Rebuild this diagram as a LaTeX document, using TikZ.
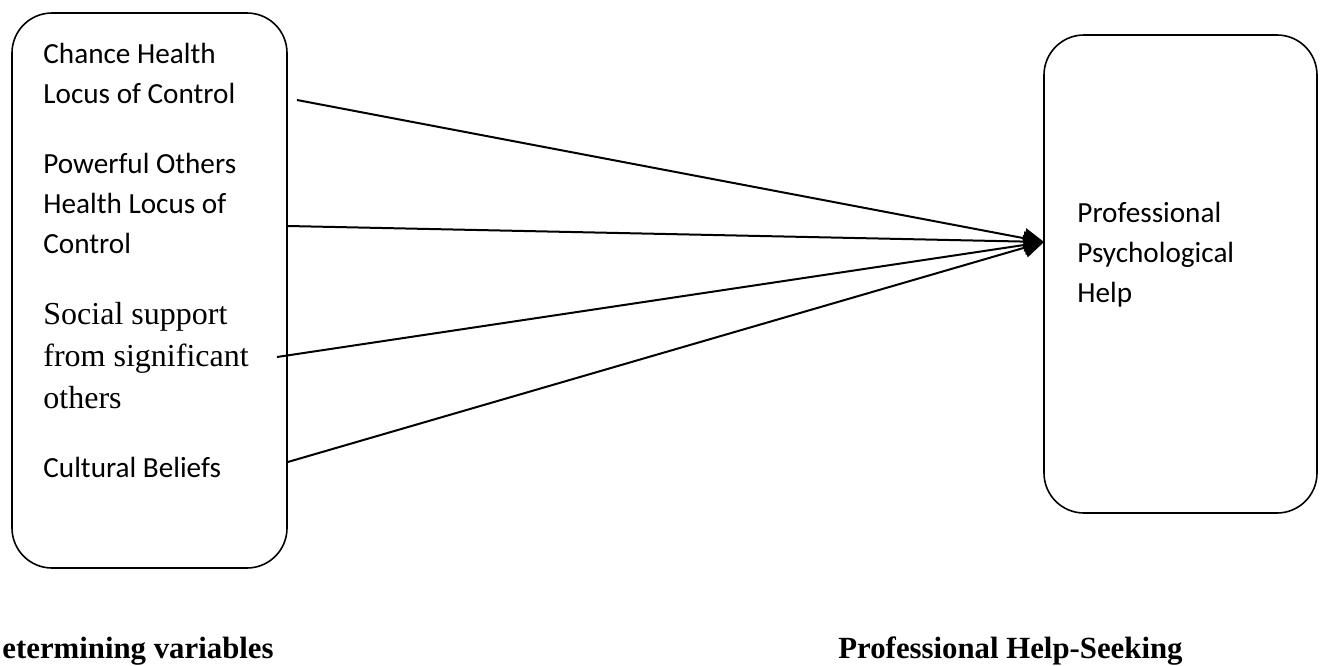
\documentclass[tikz,border=0pt]{standalone}
\usepackage{fontspec}
\setmainfont{Liberation Serif}
\newfontfamily\calibri{Carlito}
\usetikzlibrary{arrows.meta}

\begin{document}
\begin{tikzpicture}[x=0.5pt, y=-0.5pt,
    varbox/.style={draw, line width=0.8pt, rounded corners=20pt},
    sanstext/.style={font=\calibri\fontsize{14.6}{20}\selectfont, align=left, anchor=base west, inner sep=0pt},
    seriftext/.style={font=\fontsize{16}{21}\selectfont, align=left, anchor=base west, inner sep=0pt},
    caption/.style={font=\bfseries\fontsize{15.4}{18}\selectfont, anchor=base west, inner sep=0pt},
    link/.style={line width=1pt, -{Triangle[length=10pt, width=10pt]}}]
    \useasboundingbox (0,0) rectangle (1323,665);

    % Boîtes
    \node[varbox, minimum width=137.5pt, minimum height=277.5pt] (lbox) at (149.5,290.5) {};
    \node[varbox, minimum width=136.5pt, minimum height=239pt] (rbox) at (1180.5,274) {};

    % Variables (ancre sur la ligne de base de la dernière ligne)
    \node[sanstext] (chance) at (43,103) {Chance Health\\Locus of Control};
    \node[sanstext] (powerful) at (43,253) {Powerful Others\\Health Locus of\\Control};
    \node[seriftext] (social) at (43,408) {Social support\\from significant\\others};
    \node[sanstext] (cultural) at (43,477) {Cultural Beliefs};
    \node[sanstext] (help) at (1077,302) {Professional\\Psychological\\Help};

    % Flèches
    \coordinate (tip) at (1044,242);
    \coordinate (s1) at (297,100);
    \coordinate (s3) at (277,357);
    \draw[link] (s1) -- (tip);
    \draw[link] (lbox.east |- 0,226) -- (tip);
    \draw[link] (s3) -- (tip);
    \draw[link] (lbox.east |- 0,462) -- (tip);

    % Légendes
    \node[caption] (ldet) at (2,658) {etermining variables};
    \node[caption] (lseek) at (838,658) {Professional Help-Seeking};
\end{tikzpicture}
\end{document}
